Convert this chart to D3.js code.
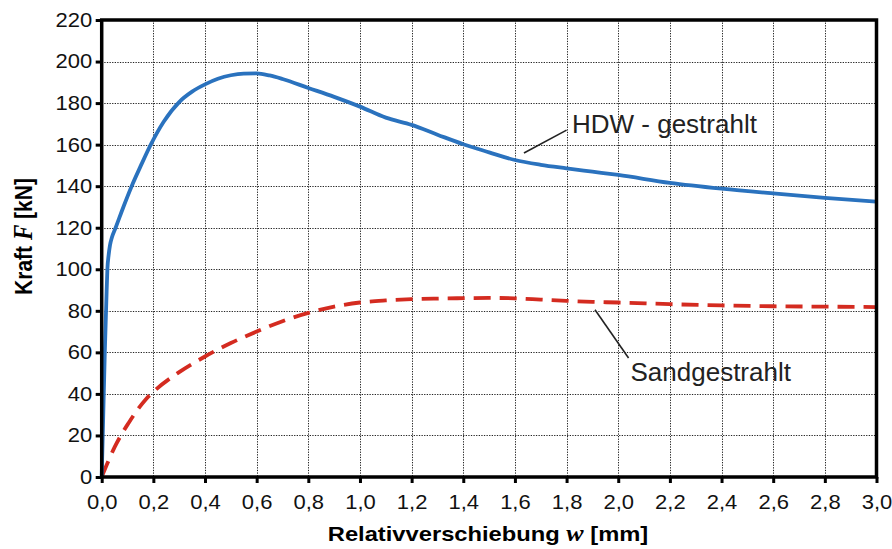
<!DOCTYPE html>
<html>
<head>
<meta charset="utf-8">
<script src="https://cdn.jsdelivr.net/npm/d3@7"></script>
<style>
  html, body { margin: 0; padding: 0; background: #fff; }
  svg { display: block; }
  text { font-family: "Liberation Sans", Arial, sans-serif; }
</style>
</head>
<body>
<svg id="chart" width="892" height="549"></svg>
<script>
// Displacement w [mm] and force F [kN] for the two surface treatments
const hdwW = [0, 0.006, 0.012, 0.018, 0.022, 0.027, 0.032, 0.04, 0.054, 0.084, 0.116, 0.152, 0.19, 0.24, 0.3, 0.35, 0.4, 0.45, 0.5, 0.55, 0.6, 0.65, 0.7, 0.8, 0.9, 1.0, 1.1, 1.2, 1.3, 1.4, 1.5, 1.6, 1.7, 1.8, 1.9, 2.0, 2.2, 2.4, 2.6, 2.8, 3.0];
const hdwF = [0, 30, 60, 85, 100, 107, 111.5, 115.5, 120, 130, 140, 150, 160, 171, 180.5, 185.5, 189, 191.7, 193.4, 194.2, 194.3, 193.3, 191.6, 187.3, 183, 178.3, 173, 169.5, 164.8, 160.2, 156.3, 152.6, 150.3, 148.6, 147, 145.4, 141.6, 138.8, 136.5, 134.4, 132.5];

const sandW = [0, 0.02, 0.051, 0.103, 0.168, 0.2, 0.3, 0.4, 0.5, 0.6, 0.7, 0.8, 0.9, 1.0, 1.1, 1.2, 1.3, 1.4, 1.5, 1.6, 1.7, 1.8, 1.9, 2.0, 2.2, 2.4, 2.6, 2.8, 3.0];
const sandF = [0, 6, 14.6, 25.8, 37, 41, 50.5, 58, 64.5, 70, 75, 79, 82, 84, 85, 85.6, 85.9, 86.1, 86.2, 86, 85.4, 84.8, 84.3, 84, 83.2, 82.6, 82.2, 82, 81.8];

const xTicks = [0, 0.2, 0.4, 0.6, 0.8, 1.0, 1.2, 1.4, 1.6, 1.8, 2.0, 2.2, 2.4, 2.6, 2.8, 3.0];
const yTicks = [0, 20, 40, 60, 80, 100, 120, 140, 160, 180, 200, 220];

const seriesLabels = ["HDW - gestrahlt", "Sandgestrahlt"];

const svg = d3.select("#chart");
const W = 892, H = 549;
const m = { left: 101.7, right: W - 876.5, top: 20, bottom: H - 477 };
const TEXT_SX = 1.1; // horizontal widening of the label type

const x = d3.scaleLinear().domain([0, 3]).range([m.left, W - m.right]);
const y = d3.scaleLinear().domain([0, 220]).range([H - m.bottom, m.top]);

svg.append("rect").attr("width", W).attr("height", H).attr("fill", "#fff");

// dotted grid
const grid = svg.append("g").attr("stroke", "#000").attr("stroke-width", 1)
  .attr("stroke-dasharray", "1.3,1.3").attr("opacity", 0.85);
grid.selectAll("line.v").data(xTicks.slice(1, -1)).join("line")
  .attr("x1", d => Math.round(x(d)) + 0.5).attr("x2", d => Math.round(x(d)) + 0.5)
  .attr("y1", y(220)).attr("y2", y(0));
grid.selectAll("line.h").data(yTicks.slice(1, -1)).join("line")
  .attr("y1", d => Math.round(y(d)) + 0.5).attr("y2", d => Math.round(y(d)) + 0.5)
  .attr("x1", x(0)).attr("x2", x(3));

const fmt = d => d.toFixed(1).replace(".", ",");

// axes
const xAxis = svg.append("g").attr("transform", `translate(0,${y(0)})`)
  .call(d3.axisBottom(x).tickValues(xTicks).tickFormat(fmt).tickSize(6).tickPadding(12));
const yAxis = svg.append("g").attr("transform", `translate(${x(0)},0)`)
  .call(d3.axisLeft(y).tickValues(yTicks).tickFormat(d3.format("d")).tickSize(6).tickPadding(4));
[xAxis, yAxis].forEach(a => {
  a.select(".domain").remove();
  a.selectAll(".tick line").attr("stroke", "#000").attr("stroke-width", 3);
  a.selectAll(".tick text").attr("fill", "#111").style("font-size", "20px")
    .style("font-family", "'Liberation Sans', Arial, sans-serif")
    .attr("transform", `scale(${TEXT_SX},1)`);
});
yAxis.selectAll(".tick text").attr("x", -9.4 / TEXT_SX);

// curves
const line = d3.line().x(d => x(d[0])).y(d => y(d[1])).curve(d3.curveMonotoneX);
svg.append("path").datum(sandW.map((w, i) => [w, sandF[i]]))
  .attr("d", line).attr("fill", "none").attr("stroke", "#d42b20")
  .attr("stroke-width", 3.8).attr("stroke-dasharray", "17,9");
svg.append("path").datum(hdwW.map((w, i) => [w, hdwF[i]]))
  .attr("d", line).attr("fill", "none").attr("stroke", "#2a72be")
  .attr("stroke-width", 3.8).attr("stroke-linejoin", "round");

// frame
svg.append("rect").attr("x", x(0)).attr("y", y(220))
  .attr("width", x(3) - x(0)).attr("height", y(0) - y(220))
  .attr("fill", "none").attr("stroke", "#000").attr("stroke-width", 3.5);

// series annotations with leader lines
const ann = svg.append("g").attr("fill", "#222");
ann.append("line").attr("x1", x(1.635)).attr("y1", y(156)).attr("x2", x(1.80)).attr("y2", y(167))
  .attr("stroke", "#222").attr("stroke-width", 1.6);
ann.append("text").attr("x", 572).attr("y", y(165.5)).style("font-size", "26px").text(seriesLabels[0]);
ann.append("line").attr("x1", x(1.91)).attr("y1", y(80.5)).attr("x2", x(2.04)).attr("y2", y(57.3))
  .attr("stroke", "#222").attr("stroke-width", 1.6);
ann.append("text").attr("x", 630.5).attr("y", y(46)).style("font-size", "26px").text(seriesLabels[1]);

// axis titles
const xt = svg.append("text").attr("transform", "translate(488,541) scale(1.13,1)")
  .attr("text-anchor", "middle")
  .style("font-size", "21px").style("font-weight", "bold").attr("fill", "#000");
xt.append("tspan").text("Relativverschiebung ");
xt.append("tspan").style("font-family", "'Liberation Serif', 'Times New Roman', serif")
  .style("font-style", "italic").style("font-size", "23px").text("w");
xt.append("tspan").text(" [mm]");

const yt = svg.append("text").attr("transform", "translate(31.5,236.5) rotate(-90) scale(1,1.15)")
  .attr("text-anchor", "middle").style("font-size", "21px").style("font-weight", "bold").attr("fill", "#000");
yt.append("tspan").text("Kraft ");
yt.append("tspan").style("font-family", "'Liberation Serif', 'Times New Roman', serif")
  .style("font-style", "italic").style("font-size", "23px").text("F");
yt.append("tspan").text(" [kN]");
</script>
</body>
</html>
